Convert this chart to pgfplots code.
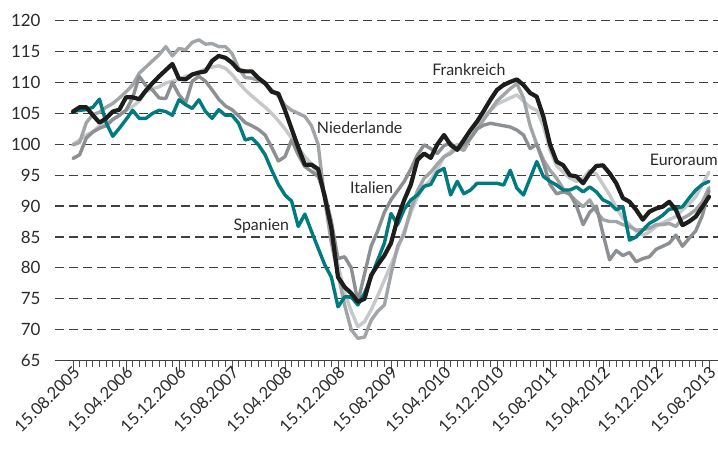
\documentclass[border=0pt]{standalone}
\usepackage{pgfplots}
\pgfplotsset{compat=1.18}
\usepackage{pgfplotstable}
\usepackage{fontspec}
\setmainfont{Lato}
\definecolor{cblk}{HTML}{1D1D1B}
\definecolor{cteal}{HTML}{007B80}
\definecolor{cga}{HTML}{A2A5A8}
\definecolor{cgb}{HTML}{8D9093}
\definecolor{cgl}{HTML}{C6C8CA}
\definecolor{ctxt}{HTML}{2A2A2A}
\pgfplotstableread{
m blk es ga gb gl
0 105.3 105.3 99.9 97.7 100.0
1 106.0 105.5 100.3 98.3 100.7
2 106.0 105.6 103.5 101.0 101.5
3 104.7 106.0 104.8 102.0 102.0
4 103.5 107.3 105.2 102.6 103.0
5 104.2 103.5 106.0 103.0 103.5
6 105.3 101.3 106.6 104.0 104.0
7 105.6 102.6 107.5 104.7 104.7
8 107.6 104.0 108.5 105.5 105.5
9 107.6 105.5 109.6 107.5 106.1
10 107.3 104.2 111.5 111.0 107.0
11 108.7 104.2 112.5 109.5 108.5
12 109.9 105.0 113.5 108.8 109.0
13 111.0 105.5 114.5 107.5 109.3
14 112.0 105.3 115.8 107.4 109.9
15 113.0 104.7 114.3 110.0 110.2
16 110.6 107.2 115.5 108.0 110.5
17 110.5 106.4 115.3 106.7 111.0
18 111.3 105.8 116.5 110.2 111.3
19 111.6 107.2 116.9 111.0 111.7
20 111.8 105.3 116.2 110.2 112.2
21 113.5 104.2 116.3 108.8 112.5
22 114.3 105.6 115.8 107.3 112.7
23 114.0 104.7 115.8 106.2 112.3
24 113.2 104.7 114.7 105.6 111.3
25 112.0 103.4 112.3 104.6 110.0
26 111.8 100.7 110.8 103.5 108.8
27 111.8 101.0 110.7 103.0 107.8
28 110.7 99.9 110.3 102.4 106.9
29 109.9 98.3 109.8 101.5 106.0
30 108.5 95.8 108.8 99.5 105.0
31 108.2 93.5 107.8 97.3 103.8
32 105.5 91.8 106.3 98.0 102.5
33 102.5 90.8 105.5 100.7 101.0
34 99.5 86.7 105.0 98.3 99.5
35 96.7 88.7 104.5 96.4 98.0
36 96.7 85.9 103.0 95.6 96.8
37 96.0 83.2 100.0 94.8 95.0
38 91.5 80.5 91.0 92.0 91.5
39 86.4 78.5 84.0 87.5 86.5
40 78.5 73.7 79.0 81.5 80.5
41 76.9 75.3 74.0 81.8 76.0
42 75.9 75.3 70.0 80.0 73.0
43 74.5 74.0 68.6 74.5 70.5
44 75.0 75.9 68.8 79.0 71.3
45 78.8 78.5 71.5 83.5 73.2
46 80.5 81.3 73.0 86.0 75.5
47 82.0 84.0 74.0 89.0 78.0
48 84.0 88.8 79.0 91.0 80.5
49 88.0 87.0 83.5 92.5 83.0
50 91.0 89.5 85.5 94.0 86.0
51 93.5 91.0 89.5 96.0 89.0
52 97.5 91.8 92.5 98.3 91.5
53 98.5 93.2 94.5 99.9 93.2
54 97.8 93.5 95.5 99.3 94.2
55 100.0 95.5 96.8 98.5 96.0
56 101.5 96.1 98.0 99.8 98.0
57 99.9 91.8 98.5 100.2 98.8
58 99.1 94.0 99.5 99.1 100.0
59 100.7 92.0 99.0 100.0 99.6
60 102.3 92.6 101.0 101.0 101.0
61 103.7 93.7 102.5 102.5 103.0
62 105.4 93.7 104.0 103.1 104.5
63 107.2 93.7 105.5 103.4 105.5
64 108.8 93.7 107.0 103.2 106.5
65 109.6 93.4 108.0 103.0 107.0
66 110.1 95.8 109.0 102.8 107.5
67 110.5 92.9 109.8 102.3 108.0
68 109.6 91.8 107.5 101.5 107.0
69 108.3 94.5 103.0 99.3 106.0
70 107.7 97.2 100.0 100.0 105.5
71 104.5 94.8 97.5 97.0 103.0
72 100.0 94.0 95.8 93.5 99.0
73 97.2 93.4 94.5 92.0 96.5
74 96.6 92.6 92.8 92.3 95.5
75 95.0 92.6 91.8 92.0 94.5
76 94.8 93.1 90.8 90.0 94.0
77 93.7 92.3 89.9 87.0 94.5
78 95.3 93.1 91.0 89.0 95.8
79 96.5 92.3 89.1 90.0 95.2
80 96.6 91.0 87.8 85.5 93.5
81 95.3 90.5 87.5 81.3 91.8
82 93.7 89.4 87.5 82.8 89.8
83 91.3 89.9 87.0 82.0 88.0
84 90.7 84.5 86.7 82.5 87.0
85 89.4 85.0 86.1 81.0 86.0
86 87.8 86.1 86.2 81.5 85.3
87 89.1 87.2 86.4 81.8 85.8
88 89.6 87.8 87.0 83.0 86.7
89 89.9 88.5 87.0 83.5 87.3
90 90.7 89.5 87.2 84.0 87.8
91 89.4 89.6 86.7 85.3 88.3
92 86.9 89.9 88.0 83.5 89.4
93 87.5 91.3 88.6 84.8 90.4
94 88.3 92.6 89.4 86.0 91.5
95 89.9 93.5 90.7 88.5 93.5
96 91.5 94.0 93.0 92.5 95.5
}\data
\begin{document}
\begin{tikzpicture}
\useasboundingbox (0,0) rectangle (718bp,451bp);
\begin{axis}[
  at={(55bp,90.4bp)}, anchor=south west,
  width=663bp, height=339.9bp, scale only axis,
  xmin=-2.717, xmax=97.36, ymin=65, ymax=120,
  clip=false,
  axis x line*=bottom, axis y line*=left,
  y axis line style={draw=none},
  x axis line style={color=black!75, line width=1.2bp, -},
  ytick={65,70,...,120},
  ytick style={draw=none},
  ymajorgrids,
  grid style={color=black!75, line width=1.2bp, dash pattern=on 9bp off 5bp},
  xtick={0,8,...,96},
  xticklabels={15.08.2005,15.04.2006,15.12.2006,15.08.2007,15.04.2008,15.12.2008,15.08.2009,15.04.2010,15.12.2010,15.08.2011,15.04.2012,15.12.2012,15.08.2013},
  minor x tick num=7,
  tick align=outside,
  major tick length=11bp, minor tick length=6bp,
  xtick style={color=black!70, line width=1bp},
  /pgf/number format/assume math mode=true,
  yticklabel style={font=\fontsize{17}{20}\selectfont, text=ctxt},
  xticklabel style={font=\fontsize{16.5}{19}\selectfont, text=ctxt, xshift=4.5bp, yshift=3bp, rotate=45, anchor=east, inner sep=1bp},
  every axis plot/.append style={line join=round, line cap=round},
]
\addplot[color=cgl, line width=3.4bp] table[x=m, y=gl] {\data};
\addplot[color=cga, line width=3.4bp] table[x=m, y=ga] {\data};
\addplot[color=cgb, line width=3.4bp] table[x=m, y=gb] {\data};
\addplot[color=cteal, line width=3.4bp] table[x=m, y=es] {\data};
\addplot[color=cblk, line width=4.2bp] table[x=m, y=blk] {\data};
\node[anchor=base west, text=ctxt, font=\fontsize{16}{19}\selectfont, inner sep=0pt] at (axis cs:54.2,111.2) {Frankreich};
\node[anchor=base west, text=ctxt, font=\fontsize{16}{19}\selectfont, inner sep=0pt] at (axis cs:36.8,101.8) {Niederlande};
\node[anchor=base west, text=ctxt, font=\fontsize{16}{19}\selectfont, inner sep=0pt] at (axis cs:41.8,92.07) {Italien};
\node[anchor=base west, text=ctxt, font=\fontsize{16}{19}\selectfont, inner sep=0pt] at (axis cs:24.2,86.13) {Spanien};
\node[anchor=base east, text=ctxt, font=\fontsize{16}{19}\selectfont, inner sep=0pt] at (axis cs:97.36,96.65) {Euroraum};
\end{axis}
\end{tikzpicture}
\end{document}
